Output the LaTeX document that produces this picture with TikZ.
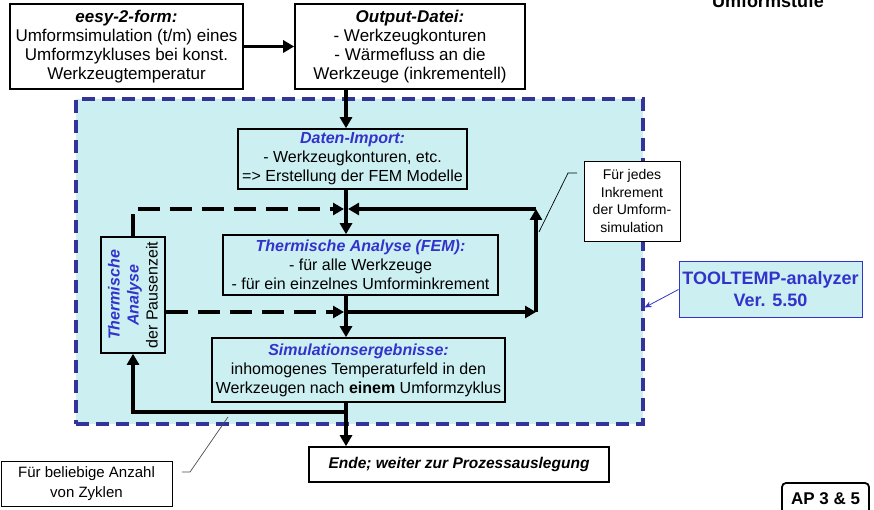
\documentclass[tikz,border=0pt]{standalone}
\usepackage{fontspec}
\setmainfont{Liberation Sans}
\usepackage{tikz}
\usetikzlibrary{calc}
\usetikzlibrary{arrows.meta}
\definecolor{headblue}{RGB}{51,51,204}
\definecolor{frameblue}{RGB}{51,51,153}
\definecolor{dotcyan}{RGB}{204,240,242}
\newcommand{\headtext}[1]{\textcolor{headblue}{\textbf{\textit{#1}}}}

\begin{document}
\begin{tikzpicture}[x=1pt, y=-1pt,
		every text node part/.style={align=center},
		block/.style={rectangle, draw=black, line width=1.6pt, inner sep=0pt, font=\fontsize{16}{19}\selectfont},
		topblock/.style={block, fill=white, font=\fontsize{17}{19}\selectfont},
		note/.style={rectangle, draw=black, line width=0.8pt, fill=white, inner sep=0pt},
		region/.style={rectangle, fill=dotcyan, draw=frameblue, line width=3.2pt, dash pattern=on 13pt off 7pt, inner sep=0pt},
		arrow/.style={-{Triangle[length=11pt, width=12pt]}, line width=3.5pt},
		dasharrow/.style={arrow, dash pattern=on 22pt off 10pt},
		leader/.style={line width=0.7pt, black}]

		\useasboundingbox (0,0) rectangle (874,510);

		\node[region, minimum width=567pt, minimum height=325pt] (tool) at (359.5, 261.5) {};

		\node[topblock, minimum width=233pt, minimum height=85pt] (eesy) at (126.5, 46.5) {\textbf{\textit{eesy-2-form:}}\\ Umformsimulation (t/m) eines\\ Umformzykluses bei konst.\\ Werkzeugtemperatur};
		\node[topblock, minimum width=230pt, minimum height=85pt] (output) at (410, 46.5) {\textbf{\textit{Output-Datei:}}\\ - Werkzeugkonturen\\ - Wärmefluss an die\\ Werkzeuge (inkrementell)};
		\node[anchor=base, font=\bfseries\fontsize{18}{20}\selectfont] (stufe) at (768, 8) {Umformstufe};

		\node[block, minimum width=229pt, minimum height=60pt] (daten) at (352.5, 159) {\headtext{Daten-Import:}\\ - Werkzeugkonturen, etc.\\ => Erstellung der FEM Modelle};
		\node[block, minimum width=275pt, minimum height=60pt] (fem) at (360.5, 265) {\headtext{Thermische Analyse (FEM):}\\ - für alle Werkzeuge\\ - für ein einzelnes Umforminkrement};
		\node[block, minimum width=293pt, minimum height=64pt] (sim) at (358.5, 370) {\headtext{Simulationsergebnisse:}\\ inhomogenes Temperaturfeld in den\\ Werkzeugen nach \textbf{einem} Umformzyklus};
		\node[block, minimum width=64pt, minimum height=116pt] (pz) at (133, 295) {};
		\node[rotate=90, font=\fontsize{16}{19}\selectfont] (pztext) at (pz.center) {\headtext{Thermische}\\ \headtext{Analyse}\\ der Pausenzeit};

		\node[topblock, minimum width=300pt, minimum height=35pt, font=\fontsize{15.5}{19}\selectfont] (ende) at (459, 464.5) {\textbf{\textit{Ende; weiter zur Prozessauslegung}}};

		\node[note, minimum width=96pt, minimum height=80pt, font=\fontsize{14}{17.5}\selectfont] (jedes) at (632, 201) {Für jedes\\ Inkrement\\ der Umform-\\ simulation};
		\node[note, minimum width=171pt, minimum height=45pt, font=\fontsize{15}{20}\selectfont] (beliebig) at (86.5, 483.5) {Für beliebige Anzahl\\ von Zyklen};
		\node[rectangle, fill=dotcyan, draw=headblue, line width=1pt, minimum width=183pt, minimum height=55pt, inner sep=0pt, text=headblue, font=\bfseries\fontsize{18}{22}\selectfont] (tt) at (770.5, 289.5) {TOOLTEMP-analyzer\\ Ver. 5.50};
		\node[rectangle, draw=black, rounded corners=4pt, line width=1.8pt, minimum width=87pt, minimum height=32pt, inner sep=0pt, font=\bfseries\fontsize{17}{19}\selectfont] (ap) at (825.5, 499) {AP 3 \& 5};

		\coordinate (j1) at (346, 209);
		\coordinate (j2) at (346, 312);
		\coordinate (r1) at (536, 209);
		\coordinate (r2) at (536, 312);
		\coordinate (lp) at (346, 412);

		\draw (eesy) edge[arrow] (output);
		\draw (output.south -| j1) edge[arrow] (daten.north -| j1);
		\draw (daten.south -| j1) edge[arrow] (fem.north -| j1);
		\draw[dasharrow] (pz.north) |- ($(j1) + (-2, 0)$);
		\draw (r1) edge[arrow] ($(j1) + (2, 0)$);
		\draw (fem.south -| j2) edge[arrow] (sim.north -| j2);
		\draw[dasharrow] (pz.east |- j2) -- ($(j2) + (-2, 0)$);
		\draw (j2) edge[arrow] (r2);
		\draw (r2) edge[arrow] (r1);
		\draw (sim.south -| lp) edge[arrow] (ende.north -| lp);
		\draw[arrow] (lp) -| (pz.south);

		\coordinate (jl1) at (539, 232);
		\coordinate (jl2) at (568, 173);
		\coordinate (jl3) at (577, 173);
		\draw[leader] (jl1) -- (jl2) -- (jl3);

		\coordinate (bl1) at (228, 417);
		\coordinate (bl2) at (190, 472);
		\coordinate (bl3) at (182, 472);
		\draw[leader, black!70] (bl1) -- (bl2) -- (bl3);

		\draw[-{Stealth[length=7pt, width=6pt]}, headblue, line width=0.8pt] (tt.west) -- ($(tool.east) + (0, 46)$);

	\end{tikzpicture}
\end{document}
